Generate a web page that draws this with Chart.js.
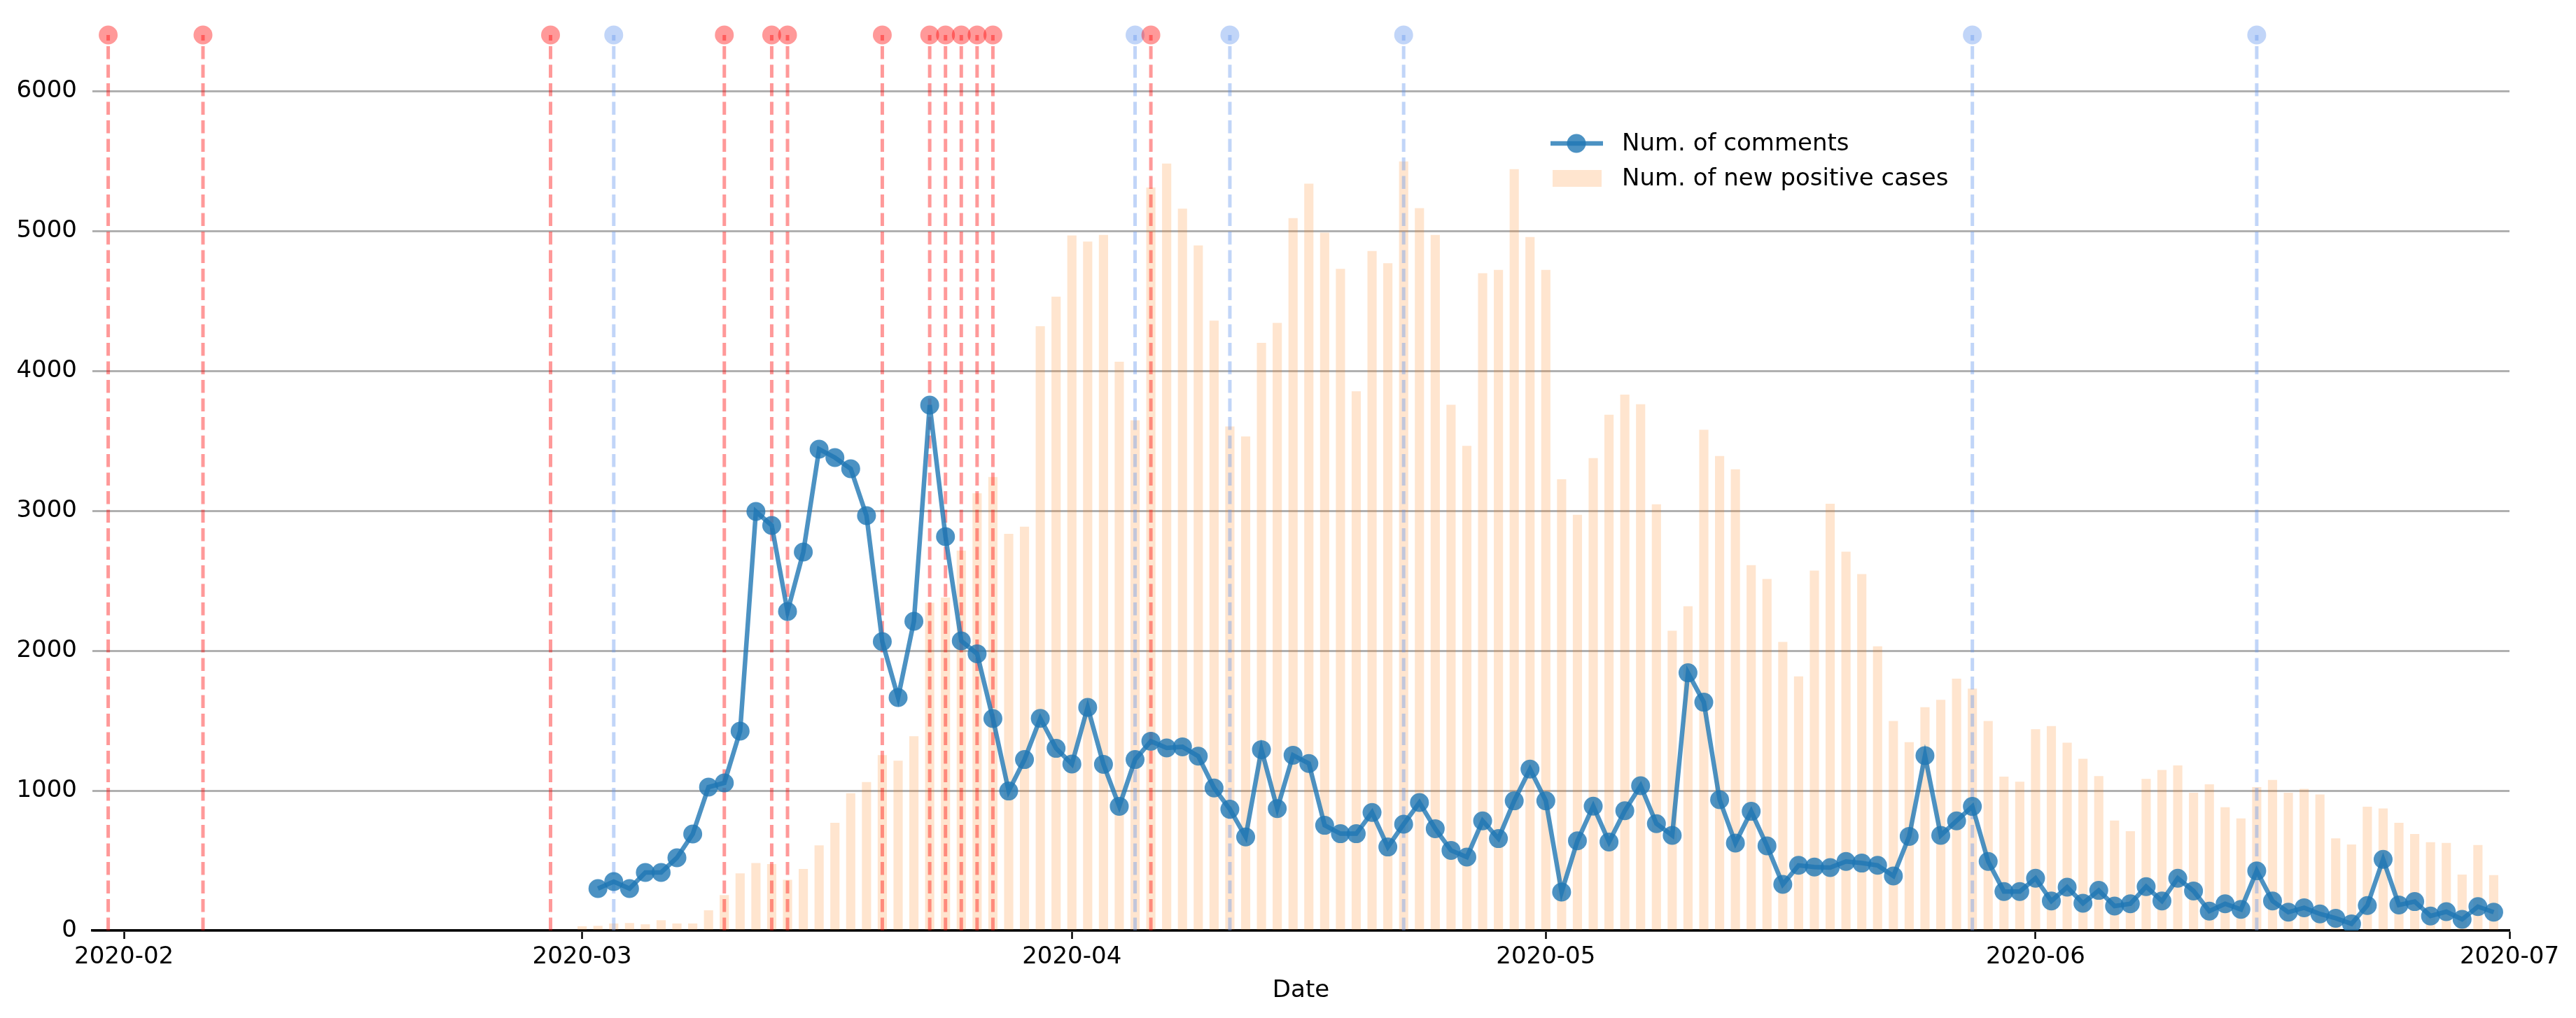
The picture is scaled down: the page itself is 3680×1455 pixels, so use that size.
<!DOCTYPE html>
<html>
<head>
<meta charset="utf-8">
<title>Num. of comments vs new positive cases</title>
<script src="https://cdn.jsdelivr.net/npm/chart.js@4.4.1/dist/chart.umd.min.js"></script>
<style>
  html, body { margin: 0; padding: 0; background: #fff; }
  #wrap { width: 3680px; height: 1455px; }
</style>
</head>
<body>
<div id="wrap"><canvas id="chart" width="3680" height="1455"></canvas></div>
<script>
// ---------- data (one value per day) ----------
const CASES_START = "2020-03-01";
const NEW_CASES = [
  29, 32, 49, 52, 43, 72, 49, 49, 143, 252, 407, 481, 473, 361, 438, 607, 768, 980, 1060, 1252,
  1212, 1387, 2341, 2378, 2713, 3123, 3240, 2833, 2885, 4317, 4528,
  4966, 4922, 4970, 4063, 3645, 5308, 5480, 5157, 4895, 4357, 3601, 3530, 4198, 4341, 5090,
  5336, 4986, 4727, 3852, 4855, 4767, 5495, 5161, 4970, 3756, 3462, 4696, 4719, 5440, 4954,
  4719, 3223, 2969, 3374, 3685, 3828, 3760, 3044, 2141, 2316, 3577, 3390, 3295, 2610, 2511,
  2061, 1815, 2571, 3048, 2706, 2546, 2029, 1496, 1345, 1595, 1647, 1798, 1727, 1496, 1098, 1062,
  1437, 1460, 1341, 1226, 1102, 784, 708, 1082, 1146, 1178, 983, 1043, 879, 800, 1023,
  1074, 983, 1011, 971, 657, 613, 883, 871, 768, 688, 629, 625, 398, 609, 394
];

const COMMENTS_START = "2020-03-02";
const COMMENTS = [
  300, 350, 300, 415, 415, 520, 690, 1025, 1055, 1425, 2995, 2895, 2280, 2705, 3440,
  3380, 3300, 2965, 2065, 1665, 2210, 3755, 2815, 2070, 1978, 1515, 997, 1222, 1516, 1302,
  1190, 1595, 1188, 888, 1222, 1353, 1305, 1313, 1246, 1019, 867, 669, 1293, 871, 1253,
  1194, 752, 692, 692, 844, 597, 760, 915, 728, 573, 525, 784, 657, 927, 1154,
  927, 275, 641, 889, 633, 856, 1035, 764, 680, 1842, 1632, 935, 625, 852, 605, 330,
  466, 454, 450, 494, 482, 466, 390, 673, 1250, 680, 784, 887, 494, 279, 279,
  374, 211, 310, 195, 287, 175, 191, 314, 211, 374, 283, 139, 191, 151, 426,
  211, 131, 163, 119, 88, 48, 179, 509, 183, 207, 104, 135, 80, 171, 131
];

// event markers (vertical dashed lines)
const RED_EVENTS = [
  "2020-01-31", "2020-02-06", "2020-02-28", "2020-03-10", "2020-03-13", "2020-03-14",
  "2020-03-20", "2020-03-23", "2020-03-24", "2020-03-25", "2020-03-26", "2020-03-27", "2020-04-06"
];
const BLUE_EVENTS = ["2020-03-03", "2020-04-05", "2020-04-11", "2020-04-22", "2020-05-28", "2020-06-15"];
const EVENT_TOP = 6400;

const X_RANGE = ["2020-01-30", "2020-07-01"];
const X_TICKS = ["2020-02-01", "2020-03-01", "2020-04-01", "2020-05-01", "2020-06-01", "2020-07-01"];
const Y_TICKS = [0, 1000, 2000, 3000, 4000, 5000, 6000];
const Y_MAX = 6650;

// ---------- date helpers: x axis works in days since BASE ----------
const DAY_MS = 86400000;
const BASE = Date.parse("2020-01-31");
const dayOf = s => (Date.parse(s) - BASE) / DAY_MS;
const monthLabel = d => new Date(BASE + d * DAY_MS).toISOString().slice(0, 7);
const dailyPoints = (start, values) => values.map((v, i) => ({ x: dayOf(start) + i, y: v }));

const COLORS = {
  comments: "rgba(31,119,180,0.8)",
  cases: "rgba(255,127,14,0.2)",
  red: "rgba(255,0,0,0.4)",
  blue: "rgba(100,149,237,0.4)"
};

function eventLine(date, color) {
  const d = dayOf(date);
  return {
    type: "line",
    label: "",
    data: [{ x: d, y: 0 }, { x: d, y: EVENT_TOP }],
    borderColor: color,
    borderWidth: 5,
    borderDash: [18.5, 8],
    pointRadius: [0, 13.5],
    pointBorderWidth: 0,
    pointBackgroundColor: color,
    clip: false,
    order: 1
  };
}

// legend sits inside the plot, so draw it by hand
const insideLegend = {
  id: "insideLegend",
  afterDraw(chart) {
    const ctx = chart.ctx;
    const [comments, cases] = chart.data.datasets;
    ctx.save();
    ctx.strokeStyle = comments.borderColor;
    ctx.lineWidth = 6.5;
    ctx.beginPath();
    ctx.moveTo(2215, 205);
    ctx.lineTo(2290, 205);
    ctx.stroke();
    ctx.fillStyle = comments.pointBackgroundColor;
    ctx.beginPath();
    ctx.arc(2252, 205, 13.5, 0, Math.PI * 2);
    ctx.fill();
    ctx.fillStyle = cases.backgroundColor;
    ctx.fillRect(2218, 243, 70, 24);
    ctx.fillStyle = "#000";
    ctx.font = '34px "DejaVu Sans"';
    ctx.textBaseline = "middle";
    ctx.fillText(comments.label, 2317, 206);
    ctx.fillText(cases.label, 2317, 256);
    ctx.restore();
  }
};

Chart.defaults.font.family = '"DejaVu Sans", sans-serif';
Chart.defaults.font.size = 34;
Chart.defaults.color = "#000";

new Chart(document.getElementById("chart"), {
  type: "bar",
  data: {
    datasets: [
      {
        type: "line",
        label: "Num. of comments",
        data: dailyPoints(COMMENTS_START, COMMENTS),
        borderColor: COLORS.comments,
        borderWidth: 6.5,
        pointRadius: 13.5,
        pointBorderWidth: 0,
        pointBackgroundColor: COLORS.comments,
        tension: 0,
        order: 0
      },
      {
        type: "bar",
        label: "Num. of new positive cases",
        data: dailyPoints(CASES_START, NEW_CASES),
        backgroundColor: COLORS.cases,
        borderWidth: 0,
        barThickness: 12.5,
        order: 2
      },
      ...RED_EVENTS.map(d => eventLine(d, COLORS.red)),
      ...BLUE_EVENTS.map(d => eventLine(d, COLORS.blue))
    ]
  },
  options: {
    responsive: false,
    animation: false,
    devicePixelRatio: 1,
    events: [],
    layout: { autoPadding: false, padding: { left: 0, right: 95, top: 0, bottom: 0 } },
    plugins: { legend: { display: false }, tooltip: { enabled: false } },
    scales: {
      x: {
        type: "linear",
        min: dayOf(X_RANGE[0]),
        max: dayOf(X_RANGE[1]),
        offset: false,
        afterBuildTicks: s => { s.ticks = X_TICKS.map(t => ({ value: dayOf(t) })); },
        afterFit: s => { s.height = 125; s.paddingLeft = 0; s.paddingRight = 0; },
        border: { display: true, color: "#000", width: 3.5 },
        grid: { offset: false, drawOnChartArea: false, drawTicks: true, tickLength: 12, tickColor: "#000", tickWidth: 2.5 },
        ticks: { padding: 6, autoSkip: false, maxRotation: 0, callback: v => monthLabel(v) },
        title: { display: true, text: "Date", padding: { top: 0, bottom: 18 } }
      },
      y: {
        min: 0,
        max: Y_MAX,
        afterBuildTicks: s => { s.ticks = Y_TICKS.map(v => ({ value: v })); },
        afterFit: s => { s.width = 132; s.paddingTop = 0; s.paddingBottom = 0; },
        border: { display: false },
        grid: { color: "#b0b0b0", lineWidth: 3, drawTicks: false },
        ticks: { padding: 22, callback: v => String(v) }
      }
    }
  },
  plugins: [insideLegend]
});
</script>
</body>
</html>
